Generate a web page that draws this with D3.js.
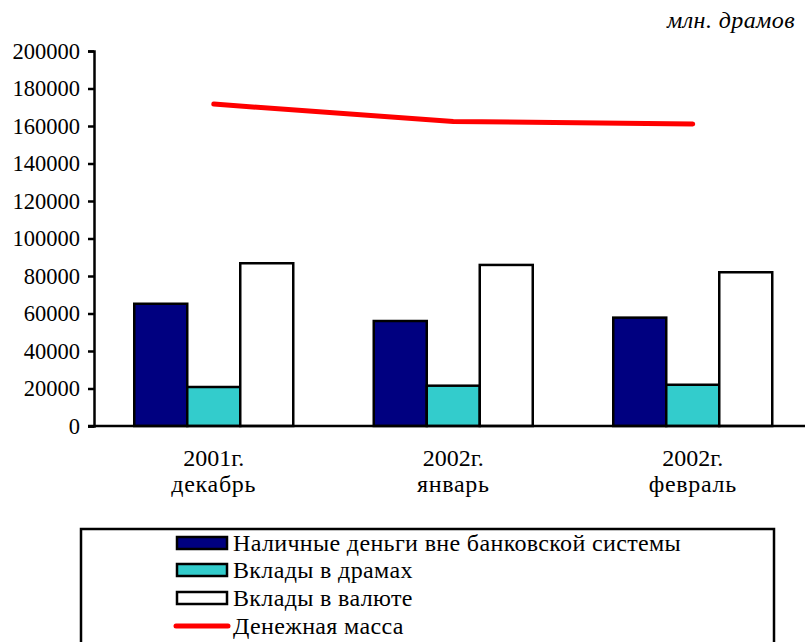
<!DOCTYPE html>
<html><head><meta charset="utf-8">
<script src="https://cdn.jsdelivr.net/npm/d3@7"></script>
<style>body{margin:0;background:#fff}svg{display:block}
svg text{font-family:"Liberation Serif";font-size:24px;fill:#000}
svg .tick text{font-size:22.5px}</style>
</head><body>
<script>
const categories = [["2001г.","декабрь"],["2002г.","январь"],["2002г.","февраль"]];
const seriesNames = ["Наличные деньги вне банковской системы","Вклады в драмах","Вклады в валюте"];
const cash = [65200, 56000, 57800];
const dramDeposits = [20800, 21500, 22000];
const fxDeposits = [86800, 85900, 82000];
const moneySupply = [171700, 162400, 161100];
const lineName = "Денежная масса";
const yTicks = [0,20000,40000,60000,80000,100000,120000,140000,160000,180000,200000];
const colors = ["#000080","#33CCCC","#FFFFFF"];
const unitLabel = "млн. драмов";

const W=805,H=642;
const svg=d3.select("body").append("svg").attr("width",W).attr("height",H);
const x=d3.scaleBand().domain(d3.range(categories.length)).range([94,812.5]).paddingInner(0).paddingOuter(0);
const y=d3.scaleLinear().domain([0,200000]).range([426,51]);
const bw=53;
const series=[cash,dramDeposits,fxDeposits];

svg.append("text").attr("x",795).attr("y",28).attr("text-anchor","end")
  .style("font-style","italic").style("letter-spacing","0.4px").text(unitLabel);

// bars
series.forEach((vals,si)=>{
  svg.append("g").selectAll("rect").data(vals).join("rect")
    .attr("x",(d,i)=>x(i)+x.bandwidth()/2-1.5*bw+si*bw)
    .attr("y",d=>y(d)).attr("width",bw).attr("height",d=>y(0)-y(d))
    .attr("fill",colors[si]).attr("stroke","#000").attr("stroke-width",2.5);
});

// y axis
const ya=svg.append("g").attr("transform","translate(94,0)")
  .call(d3.axisLeft(y).tickValues(yTicks).tickSize(6).tickPadding(8).tickFormat(d3.format("d")));
ya.attr("font-family",null).attr("font-size",null);
ya.select(".domain").attr("stroke","#000").attr("stroke-width",2.5);
ya.selectAll(".tick line").attr("stroke","#000").attr("stroke-width",2.5);

// x axis line
svg.append("line").attr("x1",88).attr("x2",W).attr("y1",y(0)).attr("y2",y(0))
  .attr("stroke","#000").attr("stroke-width",2.5);

// category labels
const cl=svg.append("g");
categories.forEach((c,i)=>{
  const cx=x(i)+x.bandwidth()/2;
  const t=cl.append("text").attr("x",cx).attr("text-anchor","middle");
  t.append("tspan").attr("x",cx).attr("y",466).text(c[0]);
  t.append("tspan").attr("x",cx).attr("y",492).style("letter-spacing","0.7px").text(c[1]);
});

// line
svg.append("path").datum(moneySupply)
  .attr("d",d3.line().x((d,i)=>x(i)+x.bandwidth()/2).y(d=>y(d)))
  .attr("fill","none").attr("stroke","#FF0000").attr("stroke-width",5).attr("stroke-linecap","round");

// legend
svg.append("rect").attr("x",81).attr("y",529).attr("width",693).attr("height",130)
  .attr("fill","#fff").attr("stroke","#000").attr("stroke-width",2.5);
const ly=[543,570,598,626];
seriesNames.forEach((n,i)=>{
  svg.append("rect").attr("x",177).attr("y",ly[i]-6).attr("width",50).attr("height",12)
    .attr("fill",colors[i]).attr("stroke","#000").attr("stroke-width",2.5);
  svg.append("text").attr("x",233).attr("y",ly[i]+8).style("letter-spacing","0.35px").text(n);
});
svg.append("line").attr("x1",176).attr("x2",228).attr("y1",ly[3]).attr("y2",ly[3])
  .attr("stroke","#FF0000").attr("stroke-width",5).attr("stroke-linecap","round");
svg.append("text").attr("x",233).attr("y",ly[3]+8).style("letter-spacing","0.35px").text(lineName);
</script>
</body></html>
